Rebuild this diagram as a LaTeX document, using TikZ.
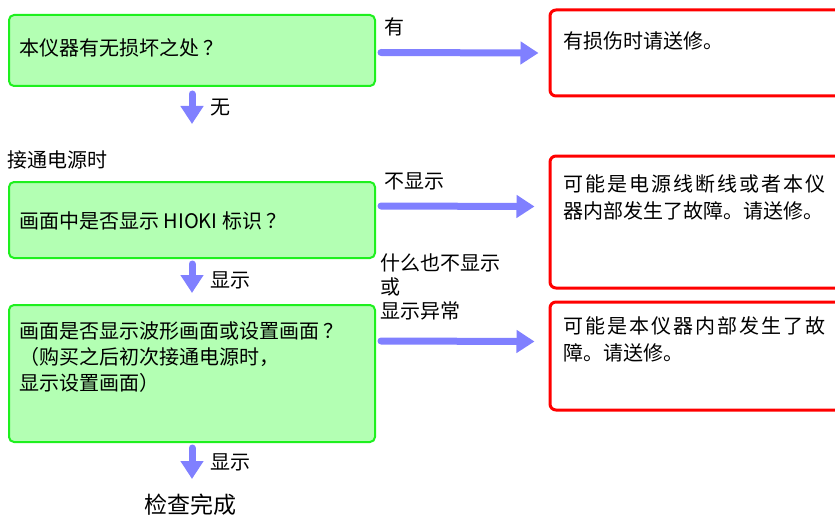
\documentclass[tikz,border=0pt]{standalone}
\usepackage{fontspec}
\setmainfont{Noto Sans CJK SC}
\newfontfamily\widecjk[LetterSpace=10]{Noto Sans CJK SC}
\usetikzlibrary{arrows.meta,positioning}
\definecolor{boxgreen}{HTML}{B3FFB3}
\definecolor{edgegreen}{HTML}{1EF01E}
\definecolor{flowblue}{HTML}{8080FF}
\tikzset{
  greenbox/.style={draw=edgegreen, line width=2pt, fill=boxgreen, rounded corners=5pt, minimum width=366pt, anchor=north west, inner sep=0pt},
  redbox/.style={draw=red, line width=3pt, rounded corners=6pt, minimum width=320pt, anchor=north west, inner sep=0pt},
  boxtext/.style={font=\fontsize{20}{26}\selectfont, inner sep=0pt, align=left},
  flow/.style={-{Triangle[length=18pt,width=22pt]}, line width=7pt, draw=flowblue, line cap=round},
}

\begin{document}
\begin{tikzpicture}[x=1pt, y=-1pt]
    \useasboundingbox (0,0) rectangle (835,516);
    \clip (0,0) rectangle (835,516);

    % questions
    \node[greenbox, minimum height=71pt] (g1) at (8,14) {};
    \node[greenbox, minimum height=76pt] (g2) at (8,181) {};
    \node[greenbox, minimum height=137pt] (g3) at (8,304) {};
    \node[boxtext, anchor=west] (g1text) at (19,48) {本仪器有无损坏之处\hspace{4pt}？};
    \node[boxtext, anchor=west] (g2text) at (19,221) {画面中是否显示 HIOKI 标识\hspace{4pt}？};
    \node[boxtext, anchor=north west] (g3text) at (19,321)
    {画面是否显示波形画面或设置画面\hspace{4pt}？\\（购买之后初次接通电源时，\\显示设置画面）};

    % answers
    \node[redbox, minimum height=86pt] (r1) at (548.5,8.5) {};
    \node[redbox, minimum height=132pt] (r2) at (548.5,154.5) {};
    \node[redbox, minimum height=108pt] (r3) at (548.5,300.5) {};
    \node[boxtext, anchor=west] (r1text) at (563,41) {有损伤时请送修。};
    \node[boxtext, anchor=north west, font=\fontsize{20}{27}\selectfont] (r2text) at (563,174)
    {{\widecjk 可能是电源线断线或者本仪}\\器内部发生了故障。请送修。};
    \node[boxtext, anchor=north west, font=\fontsize{20}{27}\selectfont] (r3text) at (563,316)
    {{\widecjk 可能是本仪器内部发生了故}\\障。请送修。};

    % labels
    \node[boxtext, anchor=west] (power) at (7,160) {接通电源时};
    \node[boxtext, anchor=west] (yes1) at (384,27) {有};
    \node[boxtext, anchor=west] (no2) at (384,181) {不显示};
    \node[boxtext, anchor=north west, font=\fontsize{20}{24}\selectfont] (bad3) at (380,254)
    {什么也不显示\\或\\显示异常};
    \node[boxtext, anchor=west] (no1) at (210,108) {无};
    \node[boxtext, anchor=west] (ok2) at (210,280) {显示};
    \node[boxtext, anchor=west] (ok3) at (210,462) {显示};
    \node[font=\fontsize{23}{28}\selectfont] (done) at (190,505) {检查完成};

    % arrows
    \draw[flow] ([shift={(5,2)}]g1.east) -- ([xshift=-10pt]r1.west);
    \draw[flow] ([shift={(5,-14)}]g2.east) -- ([shift={(-14,-15.5)}]r2.west);
    \draw[flow] ([shift={(5,-32.5)}]g3.east) -- ([shift={(-14,-14.5)}]r3.west);

    \coordinate (n1) at ([yshift=-37pt]g1.south);
    \coordinate (n3) at ([yshift=-36pt]g3.south);
    \draw[flow, shorten <=7pt] (g1.south) -- (n1);
    \draw[flow, shorten <=5pt, shorten >=11pt] (g2.south) -- (g3.north);
    \draw[flow, shorten <=5pt] (g3.south) -- (n3);
\end{tikzpicture}
\end{document}
